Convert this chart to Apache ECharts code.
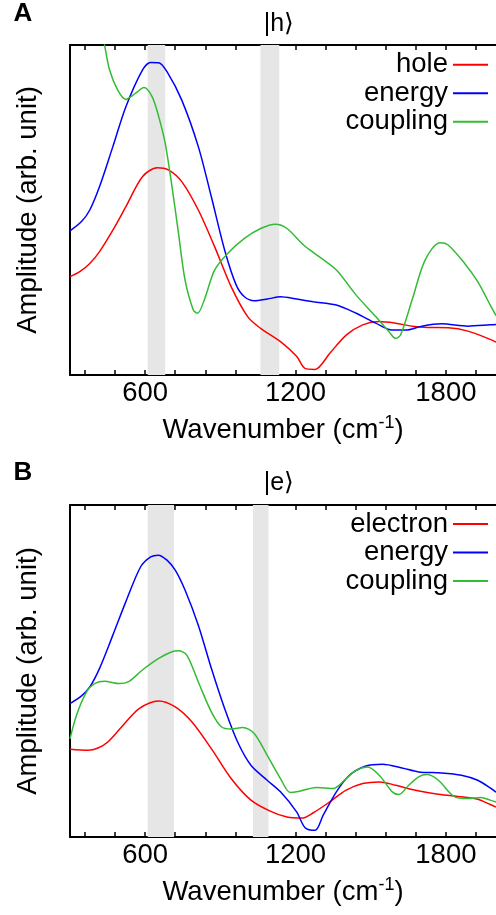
<!DOCTYPE html>
<html>
<head>
<meta charset="utf-8">
<script src="https://cdn.jsdelivr.net/npm/echarts@6/dist/echarts.min.js"></script>
<style>
html,body{margin:0;padding:0;background:#fff;}
#chart{width:496px;height:915px;}
</style>
</head>
<body>
<div id="chart"></div>
<script>
// ---------- data ----------
const xMin = 300, xMax = 2000;
const majorTicks = [600, 1200, 1800];
const allTicks = [360, 480, 600, 720, 840, 960, 1080, 1200, 1320, 1440, 1560, 1680, 1800, 1920];

const bandsA = [[610, 680], [1060, 1135]];
const bandsB = [[610, 715], [1030, 1092]];

const legendA = ['hole', 'energy', 'coupling'];
const legendB = ['electron', 'energy', 'coupling'];

// Panel A (|h>)
const holeA = [[300,29.8],[339,31.3],[379,33.8],[418,37.4],[471,43.9],[523,51.0],[589,60.1],[648,62.8],[694,62.1],[746,58.6],[812,50.0],[877,38.9],[943,26.8],[1009,17.7],[1061,14.1],[1140,10.1],[1205,5.6],[1238,2.0],[1278,1.7],[1337,6.6],[1402,12.1],[1468,15.2],[1534,16.2],[1599,15.7],[1665,14.8],[1730,14.4],[1809,14.3],[1888,13.3],[1977,10.8],[2000,10.0]];
const energyA = [[300,43.7],[346,46.5],[379,50.0],[418,57.1],[471,69.2],[523,81.3],[589,92.4],[622,94.7],[654,94.6],[687,91.9],[746,83.3],[812,69.2],[864,54.0],[917,37.9],[963,27.3],[996,23.7],[1035,22.5],[1087,23.0],[1140,23.7],[1205,23.0],[1271,22.2],[1363,21.2],[1442,18.7],[1520,15.7],[1586,13.6],[1639,13.6],[1704,14.8],[1783,15.5],[1888,14.8],[1977,15.2],[2000,15.3]];
const couplingA = [[300,150],[400,115],[438,100],[458,92.4],[490,86.4],[523,83.5],[562,85.4],[595,87.1],[628,84.3],[654,78.3],[680,70.2],[707,57.1],[733,42.9],[759,28.8],[792,19.7],[809,18.7],[838,23.2],[877,31.8],[930,36.9],[996,41.4],[1061,44.4],[1120,45.7],[1166,44.4],[1232,39.4],[1284,36.4],[1363,31.8],[1442,24.2],[1520,17.7],[1573,13.1],[1599,11.1],[1619,12.1],[1665,22.7],[1717,34.8],[1776,40.1],[1809,39.4],[1875,33.8],[1927,28.3],[1977,21.2],[2000,18.0]];

// Panel B (|e>)
const electronB = [[300,26.4],[372,26.1],[412,26.8],[451,28.6],[510,33.5],[576,38.7],[654,41.0],[720,39.2],[786,34.7],[864,26.6],[943,17.6],[1022,11.1],[1101,7.7],[1166,6.0],[1225,5.7],[1271,7.3],[1337,10.6],[1402,14.1],[1468,16.1],[1534,16.6],[1599,15.6],[1678,14.1],[1770,12.9],[1862,12.1],[1927,11.4],[1977,9.8],[2000,9.0]];
const energyB = [[300,40.2],[346,42.5],[379,45.2],[418,50.8],[471,60.8],[523,70.9],[582,81.4],[622,84.4],[652,84.9],[687,83.4],[720,80.4],[759,74.4],[812,63.8],[864,50.8],[917,38.7],[969,28.6],[1022,21.6],[1087,17.1],[1140,13.6],[1205,7.5],[1238,2.8],[1278,2.0],[1310,6.5],[1363,13.6],[1415,18.6],[1481,21.4],[1547,21.9],[1625,20.8],[1691,19.6],[1783,19.3],[1862,18.6],[1927,17.1],[1977,14.8],[2000,13.5]];
const couplingB = [[300,29.6],[326,36.7],[366,43.7],[398,46.2],[438,46.9],[497,46.2],[536,46.9],[589,50.3],[654,53.8],[707,55.8],[733,56.1],[766,54.8],[812,46.7],[864,37.7],[904,33.2],[943,32.5],[989,33.0],[1035,31.2],[1087,24.6],[1140,17.6],[1179,13.4],[1205,13.6],[1284,14.9],[1350,14.6],[1402,17.6],[1442,20.1],[1488,21.1],[1534,18.6],[1586,13.6],[1612,12.8],[1652,15.6],[1691,18.1],[1724,18.8],[1770,17.1],[1835,12.1],[1888,11.6],[1940,11.9],[1977,11.1],[2000,10.5]];

const RED = '#ff0000', BLUE = '#0000ff', GREEN = '#33bb33';
const FONT = 'Liberation Sans, Arial, sans-serif';
const FS = 27.5;

// ---------- builders ----------
function bottomAxis(gridIndex){
  return {
    type:'value', gridIndex, position:'bottom', min:xMin, max:xMax,
    axisLine:{show:true, onZero:false, lineStyle:{color:'#000', width:2}},
    axisTick:{show:true, inside:true, length:5, customValues:allTicks, lineStyle:{color:'#000', width:1.5}},
    axisLabel:{show:true, customValues:majorTicks, margin:4, color:'#000', fontSize:FS, fontFamily:FONT,
      formatter: v => String(v)},
    splitLine:{show:false},
    name:'Wavenumber (cm{sup|-1})', nameLocation:'middle', nameGap:39,
    nameTextStyle:{color:'#000', fontSize:FS, fontFamily:FONT,
      rich:{sup:{fontSize:18, fontFamily:FONT, color:'#000', verticalAlign:'top', padding:[0,0,14,0]}}}
  };
}
function topAxis(gridIndex){
  return {
    type:'value', gridIndex, position:'top', min:xMin, max:xMax,
    axisLine:{show:true, onZero:false, lineStyle:{color:'#000', width:2}},
    axisTick:{show:true, inside:true, length:5, customValues:allTicks, lineStyle:{color:'#000', width:1.5}},
    axisLabel:{show:false}, splitLine:{show:false}
  };
}
function leftAxis(gridIndex){
  return {
    type:'value', gridIndex, min:0, max:100, position:'left',
    axisLine:{show:true, onZero:false, lineStyle:{color:'#000', width:2}},
    axisTick:{show:false}, axisLabel:{show:false}, splitLine:{show:false},
    name:'Amplitude (arb. unit)', nameLocation:'middle', nameGap:28,
    nameTextStyle:{color:'#000', fontSize:FS, fontFamily:FONT}
  };
}
function lineSeries(name, data, color, xi, yi, bands){
  const s = {
    type:'line', name, data, xAxisIndex:xi, yAxisIndex:yi,
    showSymbol:false, symbol:'none', smooth:0.3, clip:true,
    color, lineStyle:{color, width:1.5}, z:3
  };
  if (bands){
    s.markArea = {silent:true, itemStyle:{color:'#e6e6e6'},
      data: bands.map(b => [{xAxis:b[0]},{xAxis:b[1]}])};
  }
  return s;
}
function legend(data, top){
  return {
    data, orient:'vertical', right:8, top, align:'right', padding:0,
    icon:'rect', itemWidth:35, itemHeight:2, itemGap:0, selectedMode:false,
    textStyle:{color:'#000', fontSize:FS, lineHeight:28.5, fontFamily:FONT}
  };
}
function label(text, x, y, size, bold){
  return {type:'text', x, y, z:10, style:{text, fontSize:size, fontFamily:FONT,
    fontWeight: bold ? 'bold' : 'normal', fill:'#000', align:'center', verticalAlign:'middle'}};
}

const chart = echarts.init(document.getElementById('chart'), null, {renderer:'canvas'});
chart.setOption({
  animation:false,
  backgroundColor:'#fff',
  textStyle:{fontFamily:FONT},
  grid:[
    {left:70, top:45, height:330, right:-5},
    {left:70, top:505, height:332, right:-5}
  ],
  xAxis:[bottomAxis(0), topAxis(0), bottomAxis(1), topAxis(1)],
  yAxis:[leftAxis(0), leftAxis(1)],
  legend:[legend(legendA, 50.5), legend(legendB, 509.8)],
  graphic:[
    label('A', 23, 14, 26, true),
    label('|h⟩', 279, 24, 25, false),
    label('B', 23, 473, 26, true),
    label('|e⟩', 279, 483, 25, false)
  ],
  series:[
    lineSeries(legendA[0], holeA, RED, 0, 0, bandsA),
    lineSeries(legendA[1], energyA, BLUE, 0, 0),
    lineSeries(legendA[2], couplingA, GREEN, 0, 0),
    lineSeries(legendB[0], electronB, RED, 2, 1, bandsB),
    lineSeries(legendB[1], energyB, BLUE, 2, 1),
    lineSeries(legendB[2], couplingB, GREEN, 2, 1)
  ]
});
</script>
</body>
</html>
